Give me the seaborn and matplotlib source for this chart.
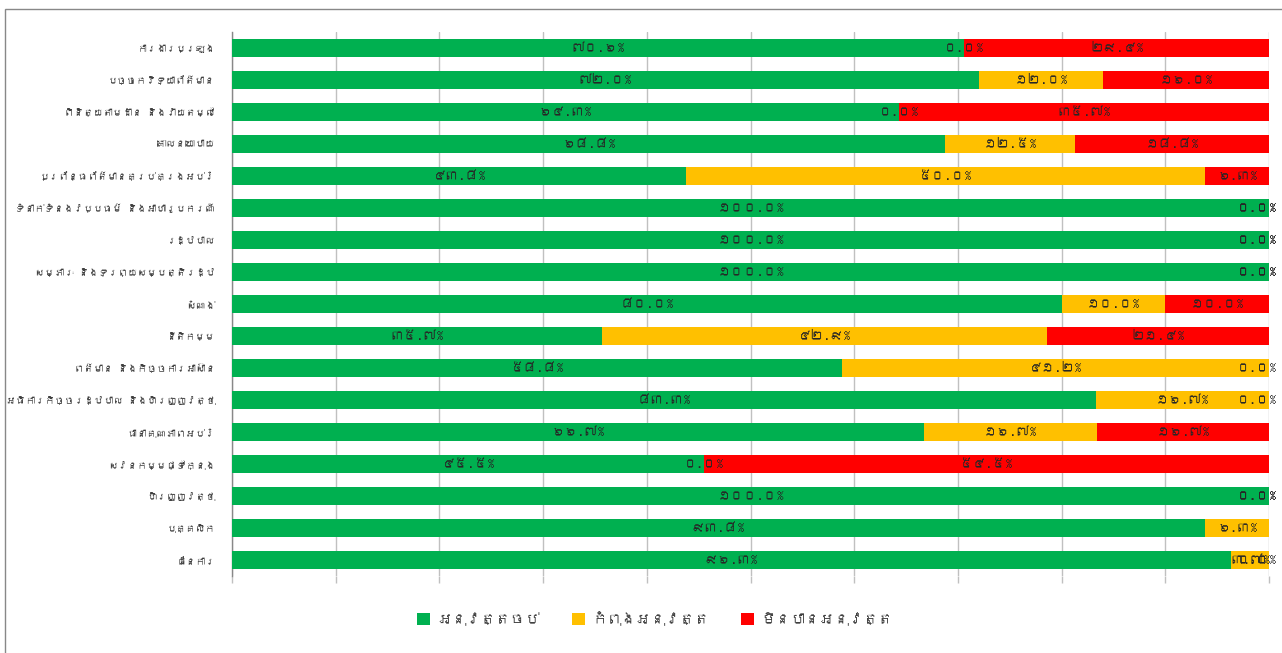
import matplotlib
matplotlib.use("Agg")
import matplotlib.pyplot as plt
from matplotlib import font_manager
from matplotlib.patches import Patch, Rectangle
import seaborn as sns
import pandas as pd
import numpy as np

categories = [
    "ការងារប្រឡង",
    "បច្ចេកវិទ្យាព័ត៌មាន",
    "ពិនិត្យតាមដាន និងវាយតម្លៃ",
    "គោលនយោបាយ",
    "ប្រព័ន្ធព័ត៌មានគ្រប់គ្រងអប់រំ",
    "ទំនាក់ទំនងវប្បធម៌ និងអាហារូបករណ៍",
    "រដ្ឋបាល",
    "សម្ភារៈ និងទ្រព្យសម្បត្តិរដ្ឋ",
    "សំណង់",
    "នីតិកម្ម",
    "ពត៌មាន និងកិច្ចការអាស៊ាន",
    "អធិការកិច្ចរដ្ឋបាល និងហិរញ្ញវត្ថុ",
    "ធានាគុណភាពអប់រំ",
    "សវនកម្មផ្ទៃក្នុង",
    "ហិរញ្ញវត្ថុ",
    "បុគ្គលិក",
    "ផែនការ",
]
done = [70.6, 72.0, 64.3, 68.8, 43.8, 100.0, 100.0, 100.0, 80.0, 35.7, 58.8, 83.3, 66.7, 45.5, 100.0, 93.8, 96.3]
ongoing = [0.0, 12.0, 0.0, 12.5, 50.0, 0.0, 0.0, 0.0, 10.0, 42.9, 41.2, 16.7, 16.7, 0.0, 0.0, 6.3, 3.7]
not_done = [29.4, 16.0, 35.7, 18.8, 6.3, 0.0, 0.0, 0.0, 10.0, 21.4, 0.0, 0.0, 16.7, 54.5, 0.0, 0.0, 0.0]
series_names = ["អនុវត្តចប់", "កំពុងអនុវត្ត", "មិនបានអនុវត្ត"]
colors = ["#00B050", "#FFC000", "#FF0000"]

# find a font with Khmer glyphs, if any is installed
khmer_font = None
try:
    from matplotlib.ft2font import FT2Font
    for fe in font_manager.fontManager.ttflist:
        try:
            cm = FT2Font(fe.fname).get_charmap()
            if 0x1780 in cm and 0x17E0 in cm:
                khmer_font = fe.name
                break
        except Exception:
            pass
except Exception:
    pass

sns.set_theme(style="white")
fams = ([khmer_font] if khmer_font else []) + ["DejaVu Sans"]
plt.rcParams["font.family"] = fams

kh_digits = str.maketrans("0123456789", "០១២៣៤៥៦៧៨៩")

def kh(v):
    return (f"{v:.1f}%").translate(kh_digits)

df = pd.DataFrame({"cat": categories, "done": done, "ongoing": ongoing, "not_done": not_done})
df["c1"] = df["done"]
df["c2"] = df["done"] + df["ongoing"]
df["c3"] = df["c2"] + df["not_done"]

fig = plt.figure(figsize=(12.82, 6.53), dpi=100)
ax = fig.add_axes([232 / 1282, 1 - 576 / 653, (1269 - 232) / 1282, (576 - 32) / 653])

for col, c in zip(["c3", "c2", "c1"], colors[::-1]):
    sns.barplot(data=df, x=col, y="cat", color=c, width=0.54, ax=ax,
                saturation=1, orient="h", linewidth=0, zorder=3)

ax.set_xlim(0, 100)
ax.set_ylim(len(categories) - 0.5, -0.5)
ax.set_xticks(np.arange(0, 101, 10))
ax.set_xticklabels([])
ax.grid(axis="x", color="#c0c0c0", linewidth=1, zorder=0)
ax.grid(axis="y", visible=False)
ax.tick_params(axis="x", bottom=True, length=5, color="#c0c0c0", width=1)
ax.tick_params(axis="y", left=False, labelsize=7.0, labelcolor="#404040", pad=6)
ax.set_xlabel("")
ax.set_ylabel("")
for s in ["top", "right", "bottom"]:
    ax.spines[s].set_visible(False)
ax.spines["left"].set_color("#888888")
ax.spines["left"].set_linewidth(1)

for i in range(len(categories)):
    starts = [0, done[i], done[i] + ongoing[i]]
    vals = [done[i], ongoing[i], not_done[i]]
    for s, v in zip(starts, vals):
        xc = s + v / 2
        dx = -9 if xc >= 99.9 else 0
        ax.annotate(kh(v), (xc, i), xytext=(dx, 0), textcoords="offset points",
                    ha="center", va="center", fontsize=9.5,
                    color="#262626", zorder=5)

handles = [Patch(facecolor=c, edgecolor="none") for c in colors]
fig.legend(handles, series_names, loc="center", bbox_to_anchor=(0.511, 0.052),
           ncol=3, frameon=False, fontsize=10.5, handlelength=0.9, handleheight=0.9,
           columnspacing=2.2, handletextpad=0.5, labelcolor="#404040")

fig.add_artist(Rectangle((5 / 1282, -0.1), 2, (1 - 9 / 653) + 0.1,
                         transform=fig.transFigure, fill=False,
                         edgecolor="#888888", linewidth=1))

fig.savefig("out.png", dpi=100)
